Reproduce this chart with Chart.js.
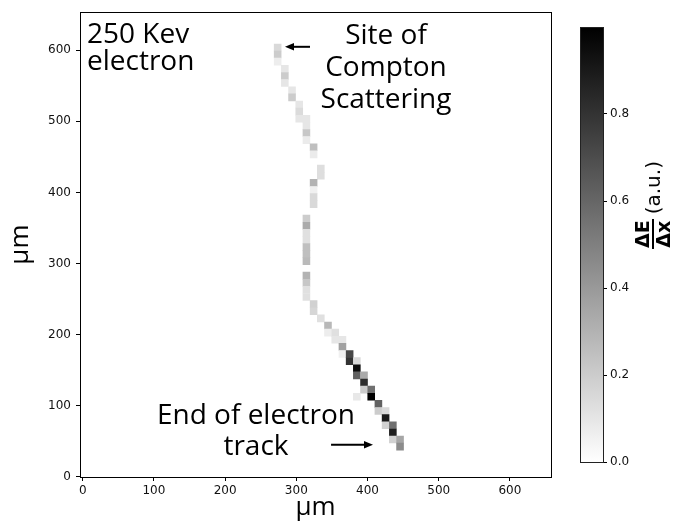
<!DOCTYPE html>
<html><head><meta charset="utf-8">
<script src="https://cdn.jsdelivr.net/npm/chart.js@4.4.0/dist/chart.umd.min.js"></script>
<style>
html,body{margin:0;padding:0;background:#fff;}
#wrap{position:relative;width:689px;height:531px;overflow:hidden;background:#fff;}
#main{position:absolute;left:0;top:0;}
#cb{position:absolute;left:560px;top:0;}
.ann{position:absolute;font-family:'Open Sans',sans-serif;font-size:28px;color:#000;white-space:nowrap;}
#cblabel{position:absolute;left:653px;top:205px;transform:translate(-50%,-50%) rotate(-90deg);display:flex;align-items:center;white-space:nowrap;font-family:'DejaVu Sans',sans-serif;color:#000;}
.frac{display:inline-flex;flex-direction:column;align-items:center;font-weight:bold;font-size:19px;line-height:17px;}
.frac .num{border-bottom:2px solid #000;padding:0 1px 1px 1px;}
.frac .den{padding-top:1px;}
.au{font-size:20px;margin-left:5px;}
</style></head><body>
<div id="wrap">
<canvas id="main" width="560" height="531"></canvas>
<canvas id="cb" width="129" height="531"></canvas>
<div class="ann" style="left:87px;top:18.6px;line-height:27px;">250 Kev<br>electron</div>
<div class="ann" style="left:386px;top:16.6px;line-height:32px;text-align:center;transform:translateX(-50%);">Site of<br>Compton<br>Scattering</div>
<div class="ann" style="left:256px;top:397.6px;line-height:31px;text-align:center;transform:translateX(-50%);">End of electron<br>track</div>
<div id="cblabel"><span class="frac"><span class="num">ΔE</span><span class="den">Δx</span></span><span class="au">(a.u.)</span></div>
</div>
<script>
// ---- data ----
const X_TICKS = [0, 100, 200, 300, 400, 500, 600];
const Y_TICKS = [0, 100, 200, 300, 400, 500, 600];
const CB_TICKS = [0.0, 0.2, 0.4, 0.6, 0.8];
const CB_MIN = 0, CB_MAX = 1;
const CELL_SIZE = 10.1; // μm per detector pixel

const CELL_X = [273.8,273.8,273.8,283.9,283.9,283.9,294.0,294.0,304.1,304.1,304.1,
  314.2,314.2,314.2,314.2,324.3,324.3,334.4,334.4,324.3,324.3,324.3,324.3,
  314.2,314.2,314.2,314.2,314.2,314.2,314.2,314.2,314.2,314.2,314.2,
  324.3,324.3,334.4,344.5,344.5,354.7,354.7,364.8,364.8,364.8,
  374.9,374.9,385.0,385.0,385.0,395.1,395.1,395.1,405.2,405.2,385.0,
  415.3,415.3,425.4,425.4,425.4,435.6,435.6,435.6,445.7,445.7];
const CELL_Y = [604.0,594.0,584.0,573.9,563.9,553.9,543.8,533.8,523.8,513.7,503.7,
  503.7,493.7,483.6,473.6,463.6,453.5,433.5,423.5,413.4,403.4,393.4,383.3,
  363.3,353.2,343.2,333.2,323.1,313.1,303.1,283.0,273.0,263.0,252.9,
  242.9,232.9,222.8,212.8,202.8,202.8,192.7,192.7,182.7,172.7,
  172.7,162.7,162.7,152.6,142.6,142.6,132.6,122.5,122.5,112.5,112.5,
  102.5,92.4,92.4,82.4,72.4,72.4,62.3,52.3,52.3,42.3];
const CELL_V = [0.15,0.20,0.07,0.10,0.20,0.10,0.10,0.20,0.10,0.14,0.10,
  0.10,0.10,0.22,0.08,0.25,0.08,0.13,0.13,0.30,0.06,0.15,0.15,
  0.20,0.33,0.12,0.12,0.25,0.25,0.27,0.30,0.22,0.12,0.12,
  0.18,0.16,0.12,0.28,0.07,0.12,0.10,0.10,0.37,0.06,
  0.72,0.80,0.15,0.95,0.62,0.33,0.82,0.20,0.56,1.00,0.09,
  0.62,0.20,0.15,0.90,0.18,0.56,0.88,0.18,0.35,0.45];

const ARROW_START = [[319.2, 604.9], [348.8, 45.0]];
const ARROW_END   = [[284.1, 604.9], [407.7, 45.0]];

// ---- helpers ----
function grey(v){ const t = Math.max(0, Math.min(1, (v - CB_MIN) / (CB_MAX - CB_MIN))); const g = Math.round(255 * (1 - t)); return `rgb(${g},${g},${g})`; }
function cellRadius(chart){
  const xs = chart.scales.x; if (!xs) return 5;
  const px = Math.abs(xs.getPixelForValue(CELL_SIZE) - xs.getPixelForValue(0));
  return (px + 0.4) / Math.SQRT2;
}
function al(v){ return Math.round(v - 0.5) + 0.5; }

const framePlugin = {
  id: 'frame',
  afterDraw(chart, args, opts){
    const a = chart.chartArea, c = chart.ctx;
    c.save(); c.strokeStyle = opts.color || '#000'; c.lineWidth = 1;
    c.strokeRect(al(a.left), al(a.top), al(a.right) - al(a.left), al(a.bottom) - al(a.top));
    c.restore();
  }
};
const arrowPlugin = {
  id: 'arrows',
  afterDatasetsDraw(chart){
    const xs = chart.scales.x, ys = chart.scales.y, c = chart.ctx;
    c.save(); c.strokeStyle = '#000'; c.fillStyle = '#000'; c.lineWidth = 2;
    for (let i = 0; i < ARROW_START.length; i++) {
      const x0 = xs.getPixelForValue(ARROW_START[i][0]), y0 = ys.getPixelForValue(ARROW_START[i][1]);
      const x1 = xs.getPixelForValue(ARROW_END[i][0]), y1 = ys.getPixelForValue(ARROW_END[i][1]);
      const ang = Math.atan2(y1 - y0, x1 - x0), hl = 9, hw = 3.8;
      const bx = x1 - hl * Math.cos(ang), by = y1 - hl * Math.sin(ang);
      c.beginPath(); c.moveTo(x0, y0); c.lineTo(bx, by); c.stroke();
      c.beginPath(); c.moveTo(x1, y1);
      c.lineTo(bx + hw * Math.sin(ang), by - hw * Math.cos(ang));
      c.lineTo(bx - hw * Math.sin(ang), by + hw * Math.cos(ang));
      c.closePath(); c.fill();
    }
    c.restore();
  }
};

const tickFont = { family: 'DejaVu Sans', size: 12 };
const titleFont = { family: 'Open Sans', size: 26 };

new Chart(document.getElementById('main'), {
  type: 'scatter',
  data: { datasets: [{
    data: CELL_X.map((x, i) => ({ x: x, y: CELL_Y[i] })),
    pointStyle: 'rect', rotation: 0,
    pointBackgroundColor: CELL_V.map(grey),
    pointBorderWidth: 0,
    pointRadius: ctx => cellRadius(ctx.chart),
    pointHoverRadius: ctx => cellRadius(ctx.chart)
  }]},
  options: {
    responsive: false, animation: false, devicePixelRatio: 1, events: [],
    layout: { padding: { left: 0, top: 8, right: 9, bottom: 0 } },
    plugins: { legend: { display: false }, tooltip: { enabled: false }, frame: { color: '#000' } },
    scales: {
      x: {
        type: 'linear', min: -3.8, max: 657.7,
        afterBuildTicks: s => { s.ticks = X_TICKS.map(v => ({ value: v })); },
        afterFit: s => { s.height = 54; },
        ticks: { font: tickFont, color: '#111', padding: 3, maxRotation: 0, autoSkip: false, callback: v => String(v) },
        grid: { display: true, drawOnChartArea: false, drawTicks: true, tickLength: 4, color: '#000' },
        border: { display: true, color: '#000', width: 1 },
        title: { display: true, text: 'μm', font: titleFont, color: '#000', padding: { top: 0, bottom: 8 } }
      },
      y: {
        type: 'linear', min: -0.4, max: 653.6,
        afterBuildTicks: s => { s.ticks = Y_TICKS.map(v => ({ value: v })); },
        afterFit: s => { s.width = 80; },
        ticks: { font: tickFont, color: '#111', padding: 5, autoSkip: false, callback: v => String(v) },
        grid: { display: true, drawOnChartArea: false, drawTicks: true, tickLength: 4, color: '#000' },
        border: { display: true, color: '#000', width: 1 },
        title: { display: true, text: 'μm', font: titleFont, color: '#000', padding: { top: 5, bottom: 0 } }
      }
    }
  },
  plugins: [framePlugin, arrowPlugin]
});

new Chart(document.getElementById('cb'), {
  type: 'bar',
  data: { labels: [''], datasets: [{
    data: [[CB_MIN, CB_MAX]],
    backgroundColor: ctx => {
      const ch = ctx.chart, ys = ch.scales.y;
      if (!ys || !ch.chartArea) return '#888';
      const g = ch.ctx.createLinearGradient(0, ys.getPixelForValue(CB_MIN), 0, ys.getPixelForValue(CB_MAX));
      g.addColorStop(0, grey(CB_MIN)); g.addColorStop(1, grey(CB_MAX));
      return g;
    },
    borderWidth: 0, barPercentage: 1, categoryPercentage: 1
  }]},
  options: {
    responsive: false, animation: false, devicePixelRatio: 1, events: [],
    layout: { padding: { left: 20, top: 27, right: 0, bottom: 69 } },
    plugins: { legend: { display: false }, tooltip: { enabled: false }, frame: { color: '#222' } },
    scales: {
      x: { display: false },
      y: {
        position: 'right', min: CB_MIN, max: CB_MAX,
        afterBuildTicks: s => { s.ticks = CB_TICKS.map(v => ({ value: v })); },
        afterFit: s => { s.width = 86; },
        ticks: { font: tickFont, color: '#111', padding: 3, autoSkip: false, callback: v => Number(v).toFixed(1) },
        grid: { display: true, drawOnChartArea: false, drawTicks: true, tickLength: 4, color: '#000' },
        border: { display: true, color: '#222', width: 1 }
      }
    }
  },
  plugins: [framePlugin]
});
</script>
</body></html>
